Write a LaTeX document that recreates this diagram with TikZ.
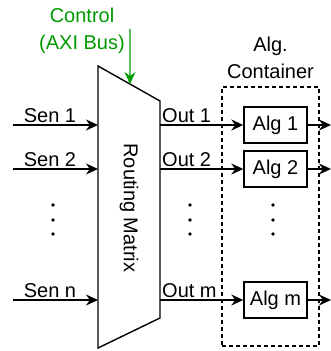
\documentclass[tikz,border=0pt]{standalone}
\usepackage{fontspec}
\setmainfont{Liberation Sans}
\usetikzlibrary{arrows.meta,calc,positioning}
\definecolor{RMGreen}{HTML}{009900}

\begin{document}
\begin{tikzpicture}[x=1pt,y=-1pt,
      font=\fontsize{20}{27}\selectfont,
      algbox/.style={draw,line width=1.4pt,minimum width=63pt,minimum height=36pt,
        inner sep=0pt},
      arrow/.style={-{Stealth[length=12pt,width=11pt]},line width=1.4pt},
      lbl/.style={inner sep=0pt},
      container/.style={draw,line width=1.3pt,dash pattern=on 4pt off 3pt,
        minimum width=97pt,minimum height=259pt}
    ]
      \useasboundingbox (0,0) rectangle (331,351);
      % routing matrix
      \coordinate (mxTL) at (98,66);
      \coordinate (mxTR) at (160,101);
      \coordinate (mxBR) at (160,318);
      \coordinate (mxBL) at (98,348);
      \draw[line width=1.4pt] (mxTL) -- (mxTR) -- (mxBR) -- (mxBL) -- cycle;
      \node[rotate=-90] (mxText) at (129,208) {Routing Matrix};
      % algorithm container
      \node[container] (cont) at (270.5,216.5) {};
      \node[align=center] (contL) at (270.5,58) {Alg.\\Container};
      % sensors, outputs and algorithms
      \foreach \i/\y in {1/125,2/169,m/300} {
        \node[algbox] (alg\i) at (275.5,\y) {Alg \i};
        \coordinate (mxOut\i) at (160,\y);
        \coordinate (res\i) at (331,\y);
        \draw[arrow] (mxOut\i) -- (alg\i);
        \draw[arrow] (alg\i) -- (res\i);
        \node[lbl,anchor=south west] (outL\i) at (162,\y-2) {Out \i};
      }
      \foreach \i/\y in {1/125,2/169,n/300} {
        \coordinate (sen\i) at (13,\y);
        \coordinate (mxIn\i) at (98,\y);
        \draw[arrow] (sen\i) -- (mxIn\i);
        \node[lbl,anchor=south] (senL\i) at (50,\y-2) {Sen \i};
      }
      \foreach \x in {53,190,273}
        \foreach \y in {205,220,234}
          \fill (\x,\y) circle (1.8pt);
      % control bus
      \node[align=center,text=RMGreen] (ctrlL) at (82,31) {Control\\(AXI Bus)};
      \coordinate (ctrlTop) at (130,29);
      \draw[arrow,color=RMGreen] (ctrlTop) -- ($(mxTL)!0.516!(mxTR)$);
    \end{tikzpicture}
\end{document}
